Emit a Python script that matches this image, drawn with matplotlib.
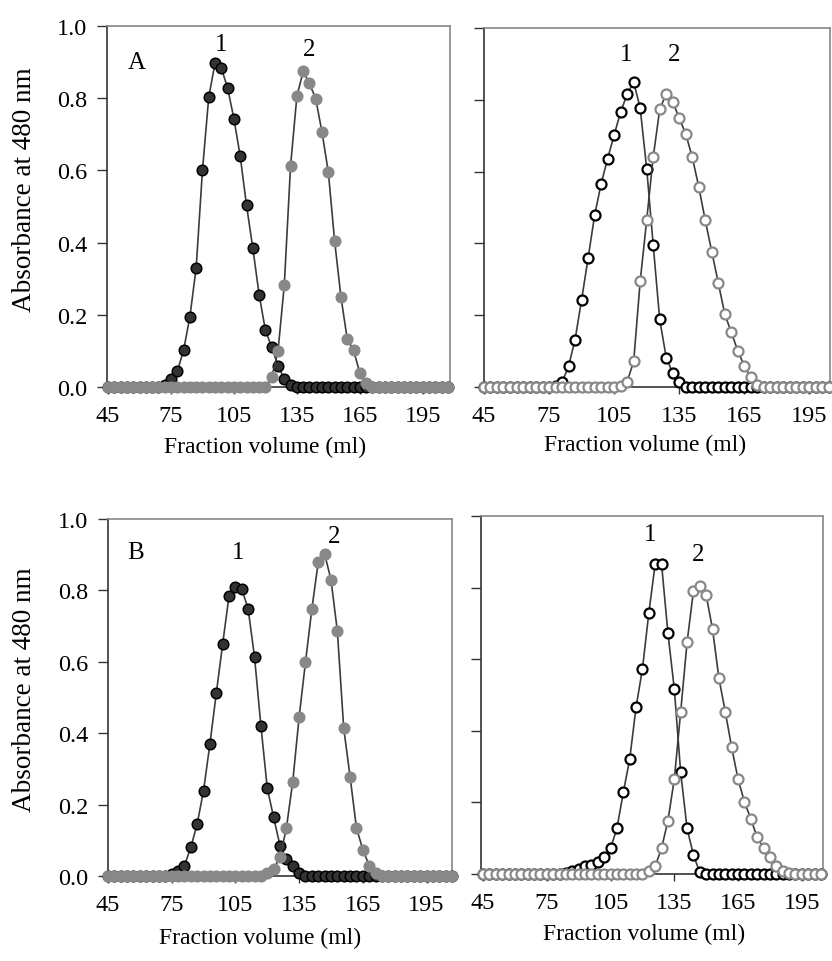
import matplotlib
matplotlib.use("Agg")
import matplotlib.pyplot as plt

plt.rcParams["font.family"] = ["Liberation Serif", "DejaVu Serif"]

# fraction volumes (ml), one point every 3 ml
volume_left = [45, 48, 51, 54, 57, 60, 63, 66, 69, 72,
               75, 78, 81, 84, 87, 90, 93, 96, 99, 102,
               105, 108, 111, 114, 117, 120, 123, 126, 129, 132,
               135, 138, 141, 144, 147, 150, 153, 156, 159, 162,
               165, 168, 171, 174, 177, 180, 183, 186, 189, 192,
               195, 198, 201, 204, 207]
volume_right = [45, 48, 51, 54, 57, 60, 63, 66, 69, 72,
                75, 78, 81, 84, 87, 90, 93, 96, 99, 102,
                105, 108, 111, 114, 117, 120, 123, 126, 129, 132,
                135, 138, 141, 144, 147, 150, 153, 156, 159, 162,
                165, 168, 171, 174, 177, 180, 183, 186, 189, 192,
                195, 198, 201, 204]

# absorbance at 480 nm, panel A (left) and its right partner
a_peak1 = [0, 0, 0, 0, 0, 0, 0, 0, 0, 0.005,
           0.022, 0.043, 0.102, 0.194, 0.33, 0.60, 0.803, 0.897, 0.883, 0.828,
           0.743, 0.639, 0.503, 0.385, 0.256, 0.157, 0.11, 0.059, 0.022, 0.005,
           0, 0, 0, 0, 0, 0, 0, 0, 0, 0,
           0, 0, 0, 0, 0, 0, 0, 0, 0, 0,
           0, 0, 0, 0, 0]
a_peak2 = [0, 0, 0, 0, 0, 0, 0, 0, 0, 0,
           0, 0, 0, 0, 0, 0, 0, 0, 0, 0,
           0, 0, 0, 0, 0, 0, 0.027, 0.099, 0.282, 0.613,
           0.805, 0.874, 0.841, 0.798, 0.705, 0.595, 0.404, 0.25, 0.133, 0.102,
           0.039, 0.01, 0, 0, 0, 0, 0, 0, 0, 0,
           0, 0, 0, 0, 0]
a2_peak1 = [0, 0, 0, 0, 0, 0, 0, 0, 0, 0,
            0, 0.003, 0.013, 0.058, 0.132, 0.243, 0.359, 0.478, 0.566, 0.636,
            0.702, 0.766, 0.816, 0.849, 0.777, 0.608, 0.396, 0.188, 0.082, 0.039,
            0.015, 0, 0, 0, 0, 0, 0, 0, 0, 0,
            0, 0, 0, 0, 0, 0, 0, 0, 0, 0,
            0, 0, 0, 0]
a2_peak2 = [0, 0, 0, 0, 0, 0, 0, 0, 0, 0,
            0, 0, 0, 0, 0, 0, 0, 0, 0, 0,
            0, 0.004, 0.015, 0.071, 0.294, 0.465, 0.64, 0.773, 0.817, 0.794,
            0.749, 0.705, 0.64, 0.558, 0.464, 0.377, 0.29, 0.203, 0.152, 0.101,
            0.058, 0.027, 0.005, 0, 0, 0, 0, 0, 0, 0,
            0, 0, 0, 0]

# panel B (left) and its right partner
b_peak1 = [0, 0, 0, 0, 0, 0, 0, 0, 0, 0,
           0.005, 0.015, 0.029, 0.08, 0.146, 0.239, 0.37, 0.512, 0.65, 0.785,
           0.81, 0.804, 0.748, 0.613, 0.421, 0.246, 0.164, 0.085, 0.048, 0.029,
           0.008, 0, 0, 0, 0, 0, 0, 0, 0, 0,
           0, 0, 0, 0, 0, 0, 0, 0, 0, 0,
           0, 0, 0, 0, 0]
b_peak2 = [0, 0, 0, 0, 0, 0, 0, 0, 0, 0,
           0, 0, 0, 0, 0, 0, 0, 0, 0, 0,
           0, 0, 0, 0, 0, 0.008, 0.02, 0.052, 0.134, 0.264,
           0.445, 0.599, 0.748, 0.879, 0.902, 0.83, 0.686, 0.414, 0.278, 0.134,
           0.074, 0.029, 0.008, 0, 0, 0, 0, 0, 0, 0,
           0, 0, 0, 0, 0]
b2_peak1 = [0, 0, 0, 0, 0, 0, 0, 0, 0, 0,
            0, 0, 0, 0.003, 0.008, 0.014, 0.022, 0.025, 0.033, 0.047,
            0.072, 0.128, 0.228, 0.321, 0.466, 0.573, 0.729, 0.866, 0.866, 0.673,
            0.517, 0.284, 0.128, 0.053, 0.005, 0, 0, 0, 0, 0,
            0, 0, 0, 0, 0, 0, 0, 0, 0, 0,
            0, 0, 0, 0]
b2_peak2 = [0, 0, 0, 0, 0, 0, 0, 0, 0, 0,
            0, 0, 0, 0, 0, 0, 0, 0, 0, 0,
            0, 0, 0, 0, 0, 0, 0.008, 0.022, 0.072, 0.149,
            0.265, 0.453, 0.647, 0.79, 0.804, 0.779, 0.684, 0.547, 0.453, 0.354,
            0.265, 0.202, 0.154, 0.103, 0.072, 0.047, 0.023, 0.009, 0.003, 0,
            0, 0, 0, 0]

x_ticks = [45, 75, 105, 135, 165, 195]
y_ticks = [0.0, 0.2, 0.4, 0.6, 0.8, 1.0]

line_col = "#3c3c3c"
dark = "#333333"
grey = "#888888"
fs_tick = 17.5
fs_xlab = 17
fs_ylab = 19.5
fs_note = 18

fig = plt.figure(figsize=(8.32, 9.62), dpi=100)
fig.set_facecolor("w")


def setup(ax, xlim, show_ylabels, label_xy, ylabel_xy=None):
    ax.set_xlim(*xlim)
    ax.set_ylim(0, 1)
    ax.set_xticks(x_ticks)
    ax.set_yticks(y_ticks)
    if show_ylabels:
        ax.set_yticklabels(["%.1f" % v for v in y_ticks])
        ax.set_ylabel("Absorbance at 480 nm", fontsize=fs_ylab)
        ax.yaxis.set_label_coords(*ylabel_xy)
    else:
        ax.set_yticklabels([])
    ax.set_xlabel("Fraction volume (ml)", fontsize=fs_xlab)
    ax.xaxis.set_label_coords(*label_xy)
    ax.tick_params(axis="y", direction="out", length=7, width=1, color=dark,
                   labelsize=fs_tick, pad=7)
    ax.tick_params(axis="x", direction="out", length=5, width=1, color=dark,
                   labelsize=fs_tick, pad=8)
    ax.spines["left"].set_color(dark)
    ax.spines["bottom"].set_color(dark)
    ax.spines["top"].set_color(grey)
    ax.spines["right"].set_color(grey)
    for s in ax.spines.values():
        s.set_linewidth(1.2)


def filled(ax, x, y, face, edge):
    ax.plot(x, y, color=line_col, lw=1.2, zorder=3, clip_on=False)
    ax.plot(x, y, "o", ms=7.6, mfc=face, mec=edge, mew=1.1, ls="none",
            zorder=3, clip_on=False)


def hollow(ax, x, y, edge):
    ax.plot(x, y, color=line_col, lw=1.2, zorder=3, clip_on=False)
    ax.plot(x, y, "o", ms=7.2, mfc="white", mec=edge, mew=1.6, ls="none",
            zorder=3, clip_on=False)


# top left - panel A
ax1 = fig.add_axes([0.1286, 0.5967, 0.4123, 0.3753])
setup(ax1, (44.5, 208), True, (0.46, -0.136), (-0.205, 0.548))
filled(ax1, volume_left, a_peak1, dark, "black")
filled(ax1, volume_left, a_peak2, grey, grey)
ax1.text(58.7, 0.90, "A", fontsize=fs_note, ha="center", va="center")
ax1.text(99, 0.95, "1", fontsize=fs_note, ha="center", va="center")
ax1.text(141, 0.935, "2", fontsize=fs_note, ha="center", va="center")

# top right
ax2 = fig.add_axes([0.5817, 0.5967, 0.4159, 0.3732])
setup(ax2, (45, 204.5), False, (0.465, -0.131))
hollow(ax2, volume_right, a2_peak1, "black")
hollow(ax2, volume_right, a2_peak2, grey)
ax2.text(110.5, 0.928, "1", fontsize=fs_note, ha="center", va="center")
ax2.text(132.8, 0.928, "2", fontsize=fs_note, ha="center", va="center")

# bottom left - panel B
ax3 = fig.add_axes([0.1298, 0.0884, 0.4135, 0.3711])
setup(ax3, (45, 207), True, (0.442, -0.143), (-0.206, 0.524))
filled(ax3, volume_left, b_peak1, dark, "black")
filled(ax3, volume_left, b_peak2, grey, grey)
ax3.text(58.2, 0.907, "B", fontsize=fs_note, ha="center", va="center")
ax3.text(106.3, 0.907, "1", fontsize=fs_note, ha="center", va="center")
ax3.text(151.7, 0.953, "2", fontsize=fs_note, ha="center", va="center")

# bottom right
ax4 = fig.add_axes([0.5781, 0.0904, 0.4111, 0.3721])
setup(ax4, (44, 205), False, (0.477, -0.137))
hollow(ax4, volume_right, b2_peak1, "black")
hollow(ax4, volume_right, b2_peak2, grey)
ax4.text(123.8, 0.95, "1", fontsize=fs_note, ha="center", va="center")
ax4.text(146.2, 0.894, "2", fontsize=fs_note, ha="center", va="center")

plt.savefig("out.png", dpi=100)
